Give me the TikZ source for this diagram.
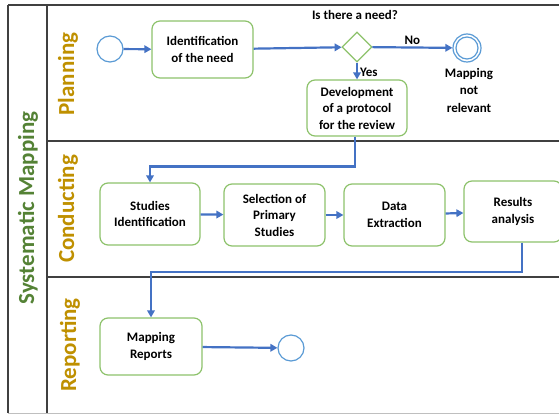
\documentclass[tikz,border=0pt]{standalone}
\usepackage{fontspec}
\setmainfont{Carlito}
\usetikzlibrary{arrows.meta,shapes.geometric}
\definecolor{flowblue}{HTML}{4472C4}
\definecolor{evblue}{HTML}{5B9BD5}
\definecolor{boxgreen}{HTML}{8DC26B}
\definecolor{lanegold}{HTML}{BF9000}
\definecolor{poolgreen}{HTML}{548235}
\definecolor{framegray}{HTML}{404040}
\begin{document}
\begin{tikzpicture}[x=1pt,y=-1pt,
  task/.style={draw=boxgreen,line width=1.2pt,rounded corners=8pt,fill=white,
    align=center,inner sep=2pt,font=\fontsize{13}{16.5}\selectfont\bfseries},
  event/.style={circle,draw=evblue,line width=1.2pt,fill=white,inner sep=0pt},
  gatew/.style={diamond,aspect=1,draw=boxgreen,line width=1.2pt,fill=white,inner sep=0pt,
    minimum width=30pt,minimum height=30pt},
  flow/.style={draw=flowblue,line width=2.2pt,-{Triangle[length=7pt,width=7.5pt]}},
  lbl/.style={font=\fontsize{13}{17.5}\selectfont\bfseries,align=center,inner sep=1pt},
  lanelbl/.style={rotate=90,text=lanegold,font=\fontsize{23}{26}\selectfont\bfseries},
  framel/.style={draw=framegray,line width=1.3pt}]
\useasboundingbox (0,0) rectangle (559,414);
\clip (0,0) rectangle (559,414);
% frame
\draw[framel] (8,5) -- (565,5);
\draw[framel] (8,5) -- (8,413);
\draw[draw=gray!50,line width=1pt] (8,413) -- (565,413);
\draw[framel] (47,5) -- (47,413);
\draw[framel] (47,141) -- (565,141);
\draw[framel] (47,277) -- (565,277);
% labels of pool and lanes
\node[rotate=90,text=poolgreen,font=\fontsize{23}{26}\selectfont\bfseries] (pool) at (28,208) {Systematic Mapping};
\node[lanelbl] (lplan) at (68,74) {Planning};
\node[lanelbl] (lcond) at (68,209) {Conducting};
\node[lanelbl] (lrep) at (70,345) {Reporting};
% planning
\node[event,minimum size=26pt] (start) at (110,49) {};
\node[task,minimum width=101pt,minimum height=57pt] (ident) at (202.5,49.5) {Identification\\of the need};
\node[gatew] (gate) at (357,47) {};
\node[lbl] (gatelbl) at (355,15) {Is there a need?};
\node[event,minimum size=28pt] (endrel) at (467,48) {};
\node[circle,draw=evblue,line width=1.2pt,inner sep=0pt,minimum size=22pt] (endrelin) at (467,48) {};
\node[lbl] (notrel) at (469,90) {Mapping\\not\\relevant};
\node[task,minimum width=100pt,minimum height=56pt] (devel) at (357,108) {Development\\of a protocol\\for the review};
% conducting
\node[task,minimum width=100pt,minimum height=62pt] (studies) at (150,214) {Studies\\Identification};
\node[task,minimum width=101pt,minimum height=62pt] (select) at (274.5,215) {Selection of\\Primary\\Studies};
\node[task,minimum width=101pt,minimum height=62pt] (extract) at (394.5,215) {Data\\Extraction};
\node[task,minimum width=98pt,minimum height=61pt] (results) at (513,211.5) {Results\\analysis};
% reporting
\node[task,minimum width=102pt,minimum height=57pt] (reports) at (151,346.5) {Mapping\\Reports};
\node[event,minimum size=26pt] (endrep) at (291,348) {};
% flows
\draw[flow] (start) -- (ident);
\draw[flow] (ident) -- (gate);
\draw[flow] (gate) -- node[lbl,above=1pt] (nolbl) {No} (endrel);
\draw[flow] (gate) -- node[lbl,right=1pt,pos=0.6] (yeslbl) {Yes} (devel);
\draw[flow] ([xshift=-2pt]devel.south) -- ++(0,30) -| (studies.north);
\draw[flow] (studies) -- (select);
\draw[flow] (select) -- (extract);
\draw[flow] (extract) -- (results);
\draw[flow] ([xshift=9pt]results.south) -- ++(0,29) -| (reports.north);
\draw[flow] (reports) -- (endrep);
\end{tikzpicture}
\end{document}
